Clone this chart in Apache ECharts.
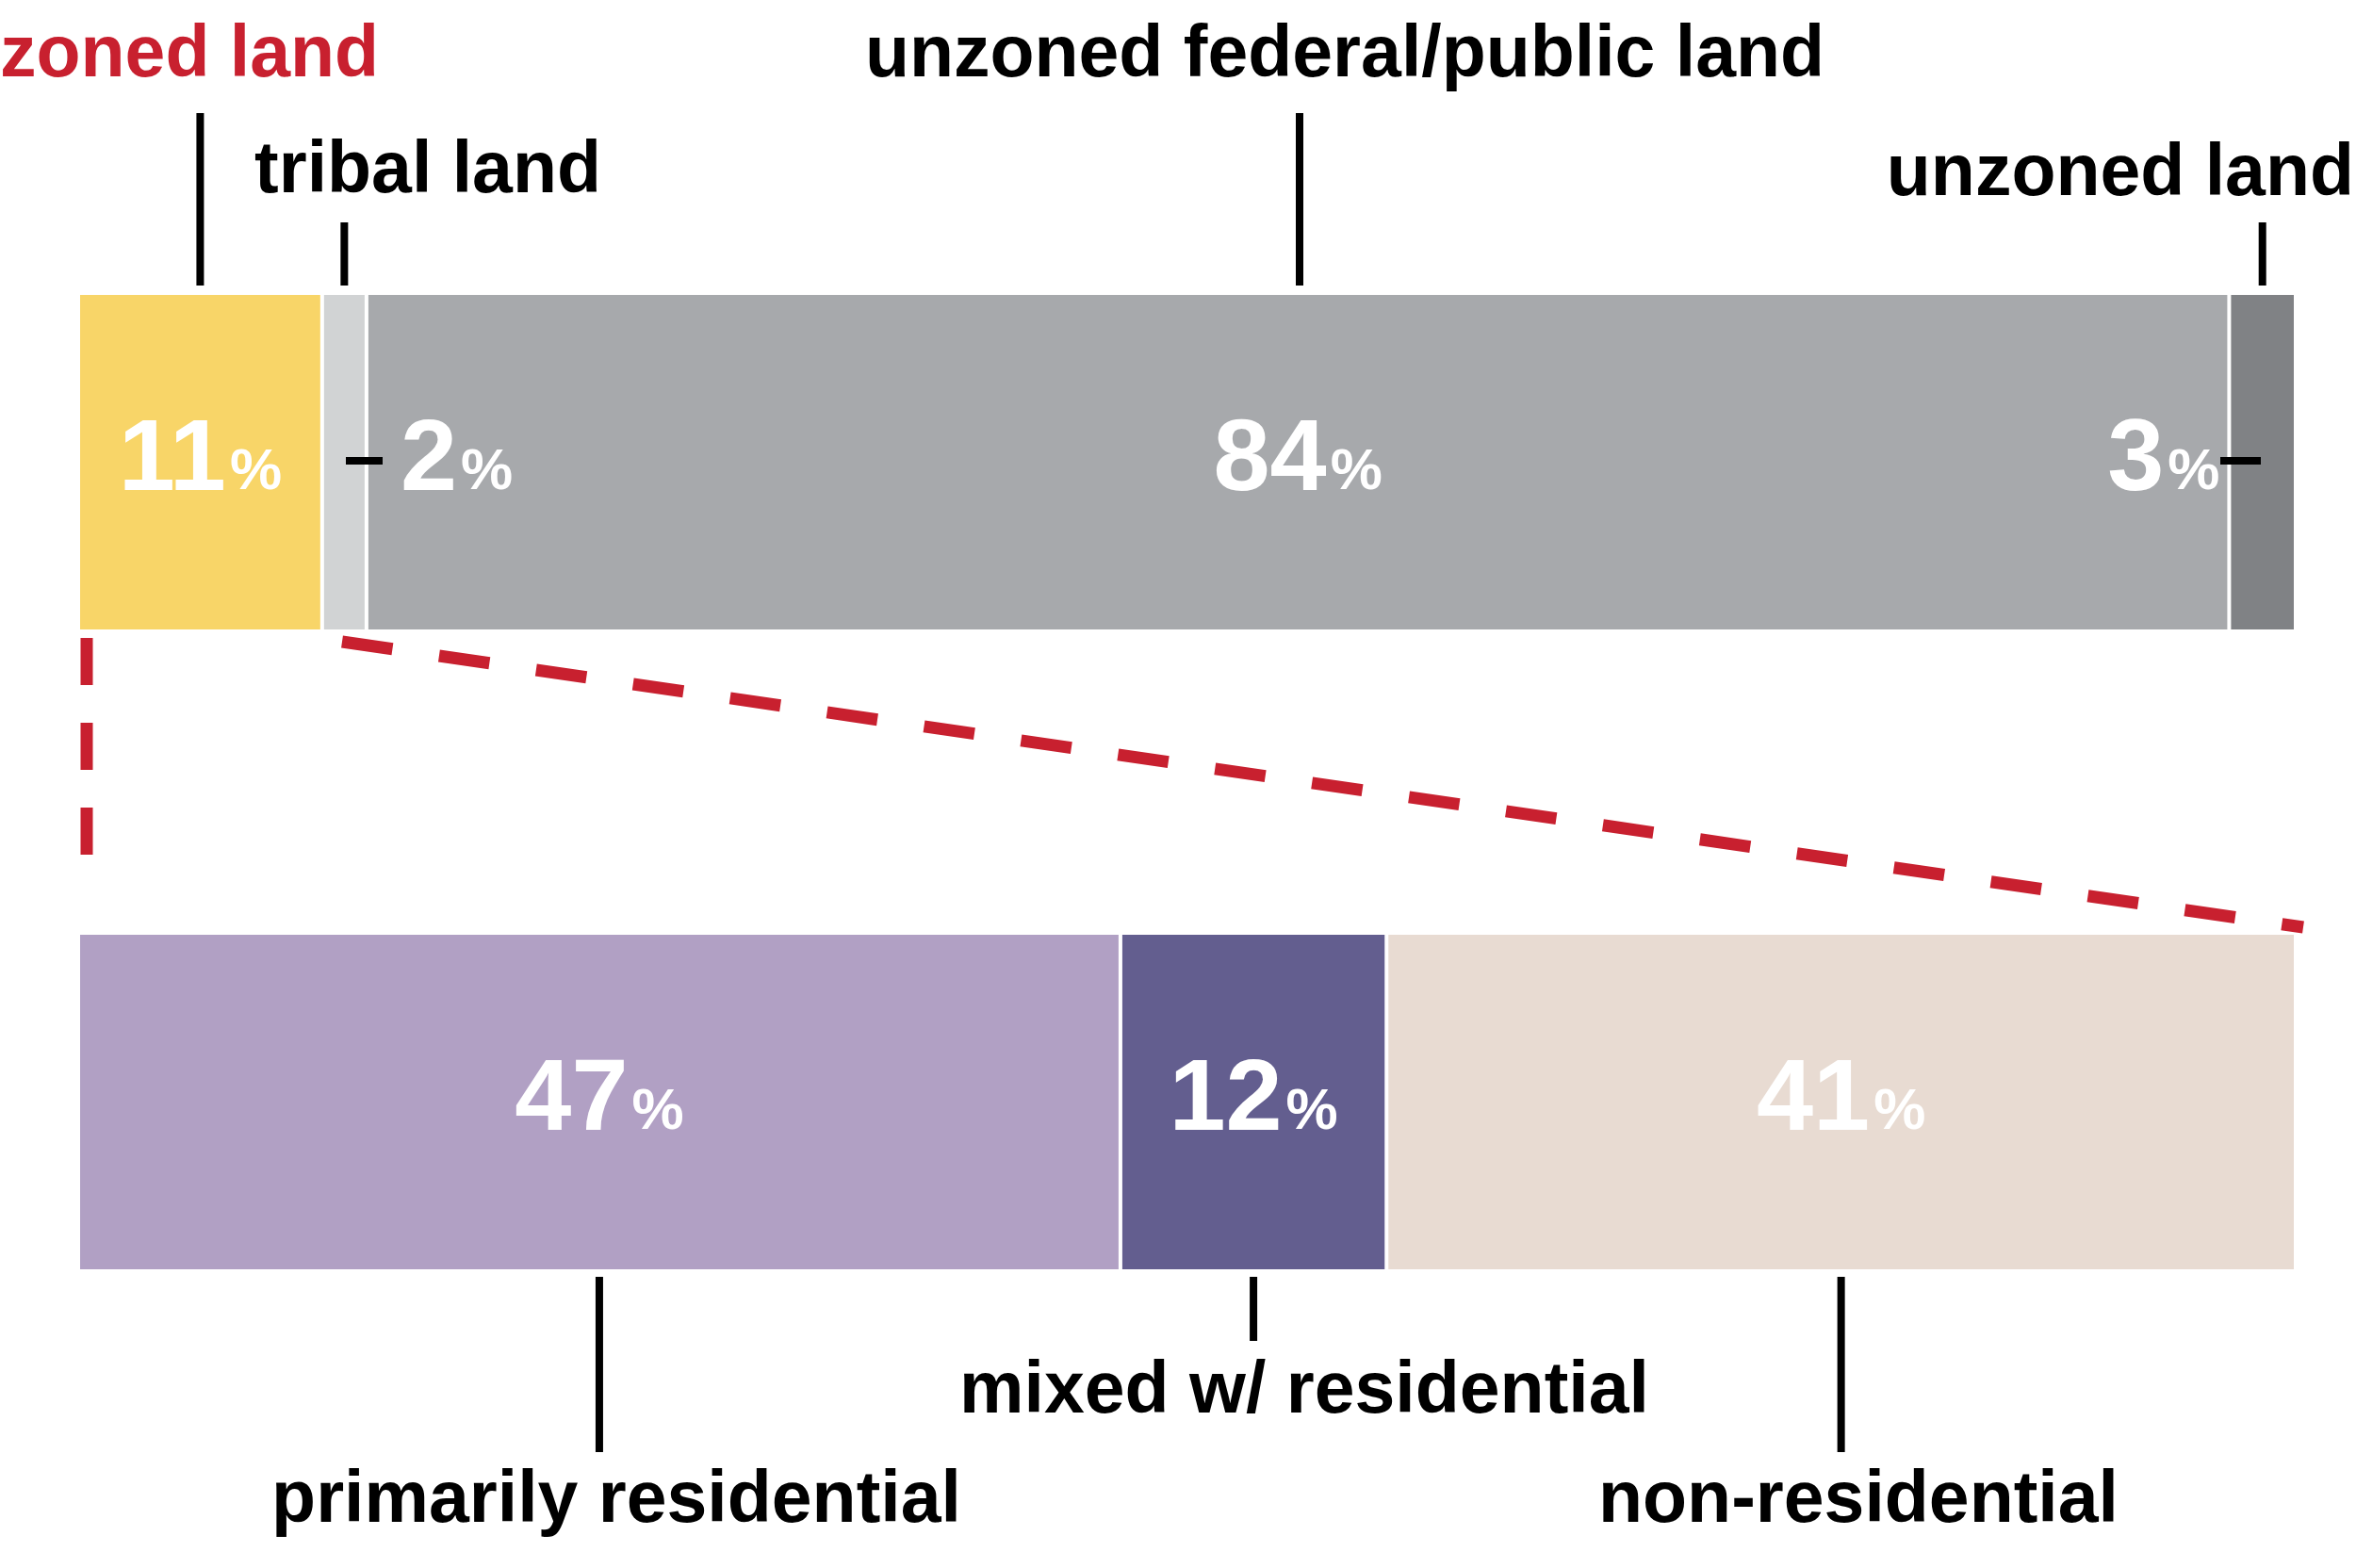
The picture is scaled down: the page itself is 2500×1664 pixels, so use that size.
<!DOCTYPE html>
<html><head><meta charset="utf-8">
<script src="https://cdn.jsdelivr.net/npm/echarts@6/dist/echarts.min.js"></script>
<style>html,body{margin:0;padding:0;background:#fff}#c{width:2500px;height:1664px}</style>
</head><body><div id="c"></div>
<script>
const topNames = ['zoned land','tribal land','unzoned federal/public land','unzoned land'];
const topValues = [11, 2, 84, 3];
const topColors = ['#f8d568','#d1d3d4','#a7a9ac','#808285'];
const botNames = ['primarily residential','mixed w/ residential','non-residential'];
const botValues = [47, 12, 41];
const botColors = ['#b1a0c4','#635e8f','#e8dbd2'];

const F = 'Liberation Sans, Arial, sans-serif';
const chart = echarts.init(document.getElementById('c'));
const pctRich = {n:{fontSize:108,fontWeight:'bold',color:'#fff',fontFamily:F},p:{fontSize:62,fontWeight:'bold',color:'#fff',fontFamily:F,padding:[22,0,0,4]}};
function lbl(pos, extra){return Object.assign({show:true,position:pos,formatter:p=>'{n|'+p.value+'}{p|%}',rich:pctRich},extra||{});}
const series=[];
topValues.forEach((v,i)=>{
  let label = lbl('inside');
  if(i===1) label = lbl('right',{distance:36});
  if(i===3) label = lbl('left',{distance:10});
  series.push({type:'bar',name:topNames[i],stack:'t',xAxisIndex:0,yAxisIndex:0,data:[v],barWidth:'100%',
    itemStyle:{color:topColors[i],borderColor:'#fff',borderWidth:2},label});
});
botValues.forEach((v,i)=>{
  series.push({type:'bar',name:botNames[i],stack:'b',xAxisIndex:1,yAxisIndex:1,data:[v],barWidth:'100%',
    itemStyle:{color:botColors[i],borderColor:'#fff',borderWidth:2},label:lbl('inside')});
});
chart.setOption({
  animation:false,
  grid:[{left:83,width:2353,top:311,height:359},{left:83,width:2353,top:990,height:359}],
  xAxis:[{gridIndex:0,type:'value',min:0,max:100,show:false},{gridIndex:1,type:'value',min:0,max:100,show:false}],
  yAxis:[{gridIndex:0,type:'category',data:['a'],show:false},{gridIndex:1,type:'category',data:['b'],show:false}],
  series
});
const g=[];
function line(x1,y1,x2,y2,opt){g.push({type:'line',shape:{x1,y1,x2,y2},style:Object.assign({stroke:'#000',lineWidth:8},opt||{}),z:10});}
function txt(x,y,t,align,color){g.push({type:'text',x,y,style:{text:t,font:'bold 77px '+F,fill:color||'#000',align:align||'center',verticalAlign:'middle'},z:10});}
function px(axis,v){return chart.convertToPixel({xAxisIndex:axis},v);}
const c0=[];let acc=0;topValues.forEach(v=>{c0.push(px(0,acc+v/2));acc+=v;});
txt(0,60,topNames[0],'left','#c8202f'); line(c0[0],120,c0[0],303);
txt(454,183,topNames[1]); line(c0[1],236,c0[1],303);
txt(1427,60,topNames[2]); line(1379,120,1379,303);
txt(2498,186,topNames[3],'right'); line(c0[3],236,c0[3],303);
line(367,489,406,489); line(2356,489,2399,489);
const c1=[];acc=0;botValues.forEach(v=>{c1.push(px(1,acc+v/2));acc+=v;});
line(c1[0],1355,c1[0],1541); txt(654,1594,botNames[0]);
line(c1[1],1355,c1[1],1423); txt(1384,1478,botNames[1]);
line(c1[2],1355,c1[2],1541); txt(1972,1594,botNames[2]);
line(92,677,92,940,{stroke:'#c8202f',lineWidth:13,lineDash:[50,40]});
line(363,681,2444,984,{stroke:'#c8202f',lineWidth:13,lineDash:[54,50]});
chart.setOption({graphic:g});
</script></body></html>
